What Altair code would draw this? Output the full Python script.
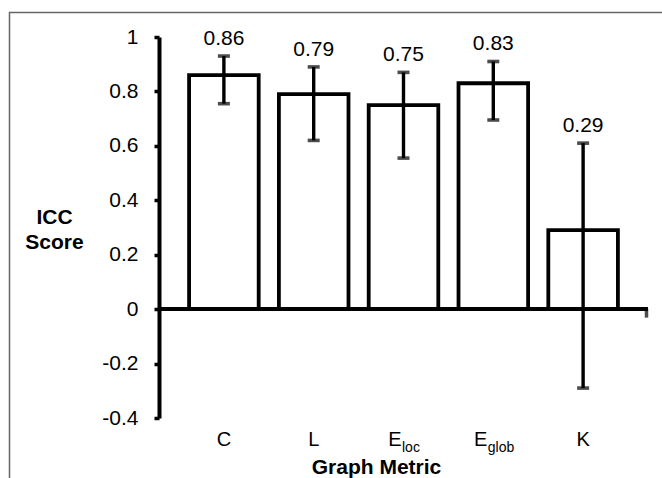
import altair as alt
import pandas as pd

# ---- data ----
metrics = ["C", "L", "Eloc", "Eglob", "K"]
main_text = ["C", "L", "E", "E", "K"]
sub_text = ["", "", "loc", "glob", ""]
icc = [0.86, 0.79, 0.75, 0.83, 0.29]
err_hi = [0.93, 0.89, 0.87, 0.91, 0.61]
err_lo = [0.755, 0.62, 0.555, 0.695, -0.29]
value_labels = ["0.86", "0.79", "0.75", "0.83", "0.29"]
y_ticks = [-0.4, -0.2, 0, 0.2, 0.4, 0.6, 0.8, 1]

FONT = "Liberation Sans"

df = pd.DataFrame({
    "metric": metrics,
    "main": main_text,
    "sub": sub_text,
    "icc": icc,
    "hi": err_hi,
    "lo": err_lo,
    "label": value_labels,
})

xscale = alt.Scale(paddingInner=0.225, paddingOuter=0.335)
yscale = alt.Scale(domain=[-0.4, 1], nice=False, zero=False)

x_axis = alt.Axis(
    labels=False, ticks=False, domain=False, grid=False,
    title="Graph Metric", titleFont=FONT, titleFontSize=21,
    titleFontWeight="bold", titleColor="black",
    titleX=217, titleY=55, titleAlign="center", titleBaseline="alphabetic",
)

y_axis = alt.Axis(
    values=y_ticks,
    labelExpr="datum.value == 0 ? '0' : toString(round(datum.value * 10) / 10)",
    grid=False,
    domainColor="black", domainWidth=4,
    tickColor="black", tickWidth=3.5, tickSize=5,
    labelPadding=16, labelFont=FONT, labelFontSize=21, labelColor="black",
    title=["ICC", "Score"], titleAngle=0, titleX=-105, titleY=186,
    titleAlign="center", titleBaseline="alphabetic",
    titleFont=FONT, titleFontSize=21, titleFontWeight="bold",
    titleColor="black", titleLineHeight=25,
)


def X():
    return alt.X("metric:N", sort=metrics, scale=xscale, axis=x_axis)


def Yf(field):
    return alt.Y(field, scale=yscale, axis=y_axis)


def Yd(val):
    return alt.Y(datum=val, scale=yscale, axis=y_axis)


base = alt.Chart(df)

bars = base.mark_bar(fill="white", stroke="black", strokeWidth=3.8).encode(
    x=X(),
    y=Yf("icc:Q"),
    y2=alt.datum(0),
)

zero_line = base.mark_rule(color="black", strokeWidth=3.8).encode(y=Yd(0))

end_tick = alt.Chart(pd.DataFrame({"k": [0]})).mark_tick(
    orient="vertical", color="black", size=9, thickness=3.5, yOffset=4
).encode(x=alt.value(487.5), y=Yd(0))

err_line = base.mark_rule(color="black", strokeWidth=3.4).encode(
    x=X(),
    y=Yf("lo:Q"),
    y2="hi:Q",
)

cap_hi = base.mark_tick(color="black", size=12, thickness=3.6, orient="horizontal").encode(
    x=X(), y=Yf("hi:Q")
)
cap_lo = base.mark_tick(color="black", size=12, thickness=3.6, orient="horizontal").encode(
    x=X(), y=Yf("lo:Q")
)

value_text = base.mark_text(
    font=FONT, fontSize=21, color="black", baseline="alphabetic", dy=-11
).encode(x=X(), y=Yf("hi:Q"), text="label:N")

# category labels (with subscripts where needed)
plain_lab = base.transform_filter("datum.sub == ''").mark_text(
    font=FONT, fontSize=20, color="black", baseline="alphabetic", dy=28
).encode(x=X(), y=Yd(-0.4), text="main:N")


def sub_label(name, shift):
    m = base.transform_filter(f"datum.metric == '{name}'").mark_text(
        font=FONT, fontSize=20, color="black", baseline="alphabetic",
        align="right", dy=28, dx=shift,
    ).encode(x=X(), y=Yd(-0.4), text="main:N")
    s = base.transform_filter(f"datum.metric == '{name}'").mark_text(
        font=FONT, fontSize=14, color="black", baseline="alphabetic",
        align="left", dy=34, dx=shift + 0.5,
    ).encode(x=X(), y=Yd(-0.4), text="sub:N")
    return [m, s]


frame = alt.Chart(pd.DataFrame({"k": [0]})).mark_rect(
    fillOpacity=0, stroke="#666666", strokeWidth=1.5
).encode(
    x=alt.value(-149.5), x2=alt.value(540),
    y=alt.value(-24.5), y2=alt.value(480),
)

chart = alt.layer(
    bars,
    frame,
    zero_line,
    end_tick,
    err_line,
    cap_hi,
    cap_lo,
    value_text,
    plain_lab,
    *sub_label("Eloc", -2),
    *sub_label("Eglob", -6),
).properties(
    width=489,
    height=381,
    autosize=alt.AutoSizeParams(type="none"),
    padding={"left": 159, "top": 37, "right": 14, "bottom": 60},
    background="white",
).configure_view(stroke=None)

chart.save("out.html", embed_options={"renderer": "svg", "actions": False})
